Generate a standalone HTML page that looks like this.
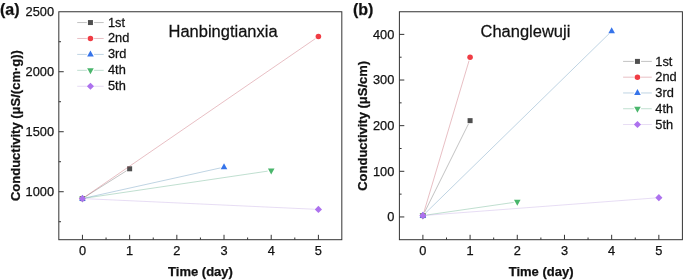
<!DOCTYPE html>
<html lang="en">
<head>
<meta charset="utf-8">
<title>Conductivity vs time</title>
<style>
html,body{margin:0;padding:0;background:#fff;}
body{width:685px;height:280px;overflow:hidden;}
svg{display:block;filter:blur(0.3px);}
text{font-family:"Liberation Sans", Arial, sans-serif;fill:#111;stroke:#111;stroke-width:0.25px;}
.t{font-size:12.8px;}
.b{font-size:13px;font-weight:bold;}
.pl{font-size:16px;font-weight:bold;}
.ti{font-size:16.5px;}
.lg{font-size:13px;}
</style>
</head>
<body>
<svg width="685" height="280" viewBox="0 0 685 280">
<rect x="0" y="0" width="685" height="280" fill="#ffffff"/>
<g>
<line x1="85.50" y1="196.64" x2="126.59" y2="170.72" stroke="#444444" stroke-opacity="0.72" stroke-width="0.45"/>
<rect x="79.95" y="196.06" width="5.00" height="5.00" fill="#4F4F4F"/>
<rect x="127.14" y="166.30" width="5.00" height="5.00" fill="#4F4F4F"/>
<line x1="85.42" y1="196.52" x2="315.43" y2="38.60" stroke="#B83848" stroke-opacity="0.72" stroke-width="0.45"/>
<circle cx="82.45" cy="198.56" r="2.78" fill="#F03C44"/>
<circle cx="318.40" cy="36.56" r="2.78" fill="#F03C44"/>
<line x1="85.96" y1="197.78" x2="220.51" y2="167.90" stroke="#3878A8" stroke-opacity="0.72" stroke-width="0.45"/>
<polygon points="82.45,194.66 85.75,200.66 79.15,200.66" fill="#3674EA"/>
<polygon points="224.02,163.22 227.32,169.22 220.72,169.22" fill="#3674EA"/>
<line x1="86.01" y1="198.03" x2="267.65" y2="171.13" stroke="#3C9C6C" stroke-opacity="0.72" stroke-width="0.45"/>
<polygon points="82.45,202.46 85.75,196.46 79.15,196.46" fill="#4AB66C"/>
<polygon points="271.21,174.50 274.51,168.50 267.91,168.50" fill="#4AB66C"/>
<line x1="86.05" y1="198.73" x2="314.80" y2="209.25" stroke="#B494DC" stroke-opacity="0.72" stroke-width="0.45"/>
<polygon points="82.45,194.96 86.05,198.56 82.45,202.16 78.85,198.56" fill="#AD72EE"/>
<polygon points="318.40,205.82 322.00,209.42 318.40,213.02 314.80,209.42" fill="#AD72EE"/>
<rect x="58.82" y="11.75" width="283.00" height="227.95" fill="none" stroke="#333" stroke-width="1.0"/>
<path d="M82.45 239.7 v-4.9 M106.05 239.7 v-2.2 M129.64 239.7 v-4.9 M153.24 239.7 v-2.2 M176.83 239.7 v-4.9 M200.43 239.7 v-2.2 M224.02 239.7 v-4.9 M247.62 239.7 v-2.2 M271.21 239.7 v-4.9 M294.81 239.7 v-2.2 M318.40 239.7 v-4.9 M58.82 191.72 h4.9 M58.82 131.72 h4.9 M58.82 71.72 h4.9 M58.82 221.72 h2.2 M58.82 161.72 h2.2 M58.82 101.72 h2.2 M58.82 41.72 h2.2" stroke="#333" stroke-width="1.0" fill="none"/>
<text x="82.45" y="254.7" text-anchor="middle" class="t">0</text>
<text x="129.64" y="254.7" text-anchor="middle" class="t">1</text>
<text x="176.83" y="254.7" text-anchor="middle" class="t">2</text>
<text x="224.02" y="254.7" text-anchor="middle" class="t">3</text>
<text x="271.21" y="254.7" text-anchor="middle" class="t">4</text>
<text x="318.40" y="254.7" text-anchor="middle" class="t">5</text>
<text x="54" y="196.02" text-anchor="end" class="t">1000</text>
<text x="54" y="136.02" text-anchor="end" class="t">1500</text>
<text x="54" y="76.02" text-anchor="end" class="t">2000</text>
<text x="54" y="16.02" text-anchor="end" class="t">2500</text>
<text x="200.5" y="275.7" text-anchor="middle" class="b">Time (day)</text>
<text transform="translate(20.1,125.6) rotate(-90)" text-anchor="middle" class="b">Conductivity (μS/(cm·g))</text>
<text x="0.0" y="14.9" class="pl">(a)</text>
<text transform="translate(168.5,36.7) scale(1.0,1.045)" class="ti">Hanbingtianxia</text>
<line x1="77.20" y1="22.55" x2="86.85" y2="22.55" stroke="#444444" stroke-opacity="0.72" stroke-width="0.45"/>
<line x1="94.05" y1="22.55" x2="103.70" y2="22.55" stroke="#444444" stroke-opacity="0.72" stroke-width="0.45"/>
<rect x="87.95" y="20.05" width="5.00" height="5.00" fill="#4F4F4F"/>
<text transform="translate(108.0,26.55) scale(0.985,1.05)" class="lg">1st</text>
<line x1="77.20" y1="38.48" x2="86.85" y2="38.48" stroke="#B83848" stroke-opacity="0.72" stroke-width="0.45"/>
<line x1="94.05" y1="38.48" x2="103.70" y2="38.48" stroke="#B83848" stroke-opacity="0.72" stroke-width="0.45"/>
<circle cx="90.45" cy="38.48" r="2.78" fill="#F03C44"/>
<text transform="translate(108.0,42.48) scale(0.985,1.05)" class="lg">2nd</text>
<line x1="77.20" y1="54.41" x2="86.85" y2="54.41" stroke="#3878A8" stroke-opacity="0.72" stroke-width="0.45"/>
<line x1="94.05" y1="54.41" x2="103.70" y2="54.41" stroke="#3878A8" stroke-opacity="0.72" stroke-width="0.45"/>
<polygon points="90.45,50.51 93.75,56.51 87.15,56.51" fill="#3674EA"/>
<text transform="translate(108.0,58.41) scale(0.985,1.05)" class="lg">3rd</text>
<line x1="77.20" y1="70.34" x2="86.85" y2="70.34" stroke="#3C9C6C" stroke-opacity="0.72" stroke-width="0.45"/>
<line x1="94.05" y1="70.34" x2="103.70" y2="70.34" stroke="#3C9C6C" stroke-opacity="0.72" stroke-width="0.45"/>
<polygon points="90.45,74.24 93.75,68.24 87.15,68.24" fill="#4AB66C"/>
<text transform="translate(108.0,74.34) scale(0.985,1.05)" class="lg">4th</text>
<line x1="77.20" y1="86.27" x2="86.85" y2="86.27" stroke="#B494DC" stroke-opacity="0.72" stroke-width="0.45"/>
<line x1="94.05" y1="86.27" x2="103.70" y2="86.27" stroke="#B494DC" stroke-opacity="0.72" stroke-width="0.45"/>
<polygon points="90.45,82.67 94.05,86.27 90.45,89.87 86.85,86.27" fill="#AD72EE"/>
<text transform="translate(108.0,90.27) scale(0.985,1.05)" class="lg">5th</text>
</g>
<g>
<line x1="424.50" y1="212.36" x2="468.49" y2="123.87" stroke="#444444" stroke-opacity="0.72" stroke-width="0.45"/>
<rect x="420.40" y="213.08" width="5.00" height="5.00" fill="#4F4F4F"/>
<rect x="467.59" y="118.15" width="5.00" height="5.00" fill="#4F4F4F"/>
<line x1="423.93" y1="212.13" x2="469.06" y2="60.66" stroke="#B83848" stroke-opacity="0.72" stroke-width="0.45"/>
<circle cx="422.90" cy="215.58" r="2.78" fill="#F03C44"/>
<circle cx="470.09" cy="57.21" r="2.78" fill="#F03C44"/>
<line x1="425.48" y1="213.07" x2="609.08" y2="33.71" stroke="#3878A8" stroke-opacity="0.72" stroke-width="0.45"/>
<polygon points="422.90,211.68 426.20,217.68 419.60,217.68" fill="#3674EA"/>
<polygon points="611.66,27.30 614.96,33.30 608.36,33.30" fill="#3674EA"/>
<line x1="426.46" y1="215.06" x2="513.72" y2="202.41" stroke="#3C9C6C" stroke-opacity="0.72" stroke-width="0.45"/>
<polygon points="422.90,219.48 426.20,213.48 419.60,213.48" fill="#4AB66C"/>
<polygon points="517.28,205.79 520.58,199.79 513.98,199.79" fill="#4AB66C"/>
<line x1="426.49" y1="215.31" x2="655.26" y2="197.96" stroke="#B494DC" stroke-opacity="0.72" stroke-width="0.45"/>
<polygon points="422.90,211.98 426.50,215.58 422.90,219.18 419.30,215.58" fill="#AD72EE"/>
<polygon points="658.85,194.09 662.45,197.69 658.85,201.29 655.25,197.69" fill="#AD72EE"/>
<rect x="399.4" y="11.75" width="283.00" height="227.95" fill="none" stroke="#333" stroke-width="1.0"/>
<path d="M422.90 239.7 v-4.9 M446.50 239.7 v-2.2 M470.09 239.7 v-4.9 M493.68 239.7 v-2.2 M517.28 239.7 v-4.9 M540.88 239.7 v-2.2 M564.47 239.7 v-4.9 M588.06 239.7 v-2.2 M611.66 239.7 v-4.9 M635.25 239.7 v-2.2 M658.85 239.7 v-4.9 M399.4 216.95 h4.9 M399.4 171.31 h4.9 M399.4 125.67 h4.9 M399.4 80.03 h4.9 M399.4 34.39 h4.9 M399.4 194.13 h2.2 M399.4 148.49 h2.2 M399.4 102.85 h2.2 M399.4 57.21 h2.2" stroke="#333" stroke-width="1.0" fill="none"/>
<text x="422.90" y="254.7" text-anchor="middle" class="t">0</text>
<text x="470.09" y="254.7" text-anchor="middle" class="t">1</text>
<text x="517.28" y="254.7" text-anchor="middle" class="t">2</text>
<text x="564.47" y="254.7" text-anchor="middle" class="t">3</text>
<text x="611.66" y="254.7" text-anchor="middle" class="t">4</text>
<text x="658.85" y="254.7" text-anchor="middle" class="t">5</text>
<text x="394.3" y="221.25" text-anchor="end" class="t">0</text>
<text x="394.3" y="175.61" text-anchor="end" class="t">100</text>
<text x="394.3" y="129.97" text-anchor="end" class="t">200</text>
<text x="394.3" y="84.33" text-anchor="end" class="t">300</text>
<text x="394.3" y="38.69" text-anchor="end" class="t">400</text>
<text x="541.1" y="275.7" text-anchor="middle" class="b">Time (day)</text>
<text transform="translate(367.4,125.8) rotate(-90)" text-anchor="middle" class="b">Conductivity (μS/cm)</text>
<text x="352.9" y="14.9" class="pl">(b)</text>
<text transform="translate(480.5,36.7) scale(1.0,1.045)" class="ti">Changlewuji</text>
<line x1="623.10" y1="61.40" x2="633.85" y2="61.40" stroke="#444444" stroke-opacity="0.72" stroke-width="0.45"/>
<line x1="641.05" y1="61.40" x2="651.80" y2="61.40" stroke="#444444" stroke-opacity="0.72" stroke-width="0.45"/>
<rect x="634.95" y="58.90" width="5.00" height="5.00" fill="#4F4F4F"/>
<text transform="translate(655.3,65.50) scale(0.985,1.05)" class="lg">1st</text>
<line x1="623.10" y1="77.18" x2="633.85" y2="77.18" stroke="#B83848" stroke-opacity="0.72" stroke-width="0.45"/>
<line x1="641.05" y1="77.18" x2="651.80" y2="77.18" stroke="#B83848" stroke-opacity="0.72" stroke-width="0.45"/>
<circle cx="637.45" cy="77.18" r="2.78" fill="#F03C44"/>
<text transform="translate(655.3,81.28) scale(0.985,1.05)" class="lg">2nd</text>
<line x1="623.10" y1="92.96" x2="633.85" y2="92.96" stroke="#3878A8" stroke-opacity="0.72" stroke-width="0.45"/>
<line x1="641.05" y1="92.96" x2="651.80" y2="92.96" stroke="#3878A8" stroke-opacity="0.72" stroke-width="0.45"/>
<polygon points="637.45,89.06 640.75,95.06 634.15,95.06" fill="#3674EA"/>
<text transform="translate(655.3,97.06) scale(0.985,1.05)" class="lg">3rd</text>
<line x1="623.10" y1="108.74" x2="633.85" y2="108.74" stroke="#3C9C6C" stroke-opacity="0.72" stroke-width="0.45"/>
<line x1="641.05" y1="108.74" x2="651.80" y2="108.74" stroke="#3C9C6C" stroke-opacity="0.72" stroke-width="0.45"/>
<polygon points="637.45,112.64 640.75,106.64 634.15,106.64" fill="#4AB66C"/>
<text transform="translate(655.3,112.84) scale(0.985,1.05)" class="lg">4th</text>
<line x1="623.10" y1="124.52" x2="633.85" y2="124.52" stroke="#B494DC" stroke-opacity="0.72" stroke-width="0.45"/>
<line x1="641.05" y1="124.52" x2="651.80" y2="124.52" stroke="#B494DC" stroke-opacity="0.72" stroke-width="0.45"/>
<polygon points="637.45,120.92 641.05,124.52 637.45,128.12 633.85,124.52" fill="#AD72EE"/>
<text transform="translate(655.3,128.62) scale(0.985,1.05)" class="lg">5th</text>
</g>
</svg>
</body>
</html>
